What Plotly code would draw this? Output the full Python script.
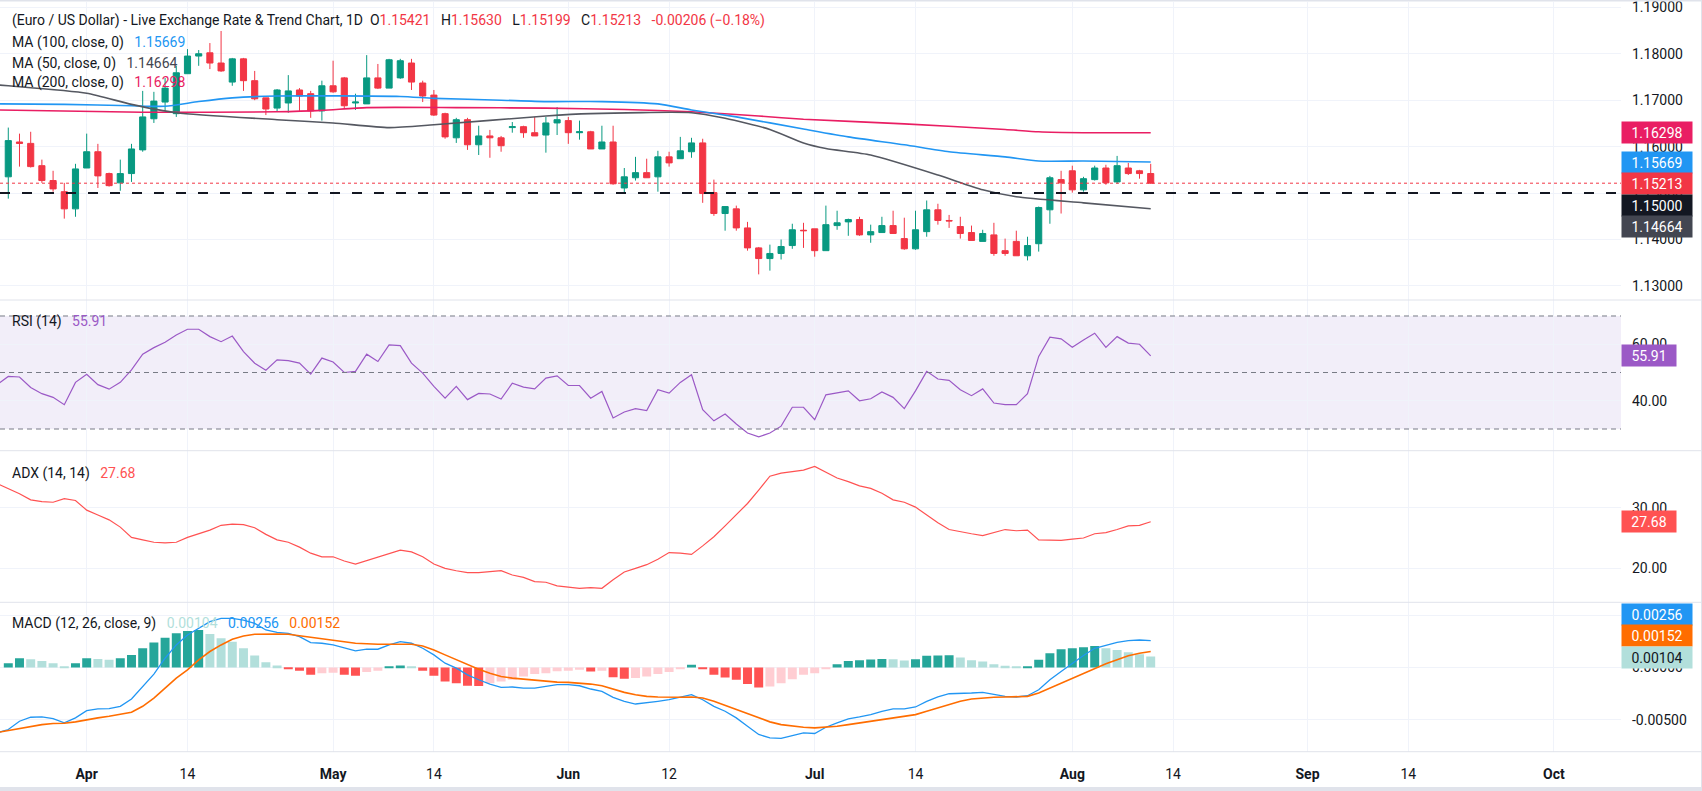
import numpy as np
import pandas as pd
import plotly.graph_objects as go
from plotly.subplots import make_subplots

# ---- data --------------------------------------------------------------
first_bar = "2026-03-23"
bar_dates = pd.bdate_range(first_bar, periods=103)          # candles
ind_dates = pd.bdate_range("2026-03-20", periods=104)       # indicators start one bar earlier

opens = [1.1535, 1.1610, 1.1607, 1.1559, 1.1527, 1.1503, 1.1466, 1.1554, 1.1589, 1.1542,
         1.1522, 1.1542, 1.1593, 1.1660, 1.1696, 1.1671, 1.1757, 1.1795, 1.1802, 1.1780,
         1.1739, 1.1789, 1.1742, 1.1705, 1.1683, 1.1694, 1.1722, 1.1714, 1.1677, 1.1731,
         1.1748, 1.1694, 1.1692, 1.1748, 1.1726, 1.1748, 1.1780, 1.1737, 1.1711, 1.1671,
         1.1619, 1.1658, 1.1604, 1.1623, 1.1619, 1.1641, 1.1643, 1.1630, 1.1625, 1.1651,
         1.1656, 1.1630, 1.1632, 1.1595, 1.1610, 1.1511, 1.1533, 1.1544, 1.1535, 1.1578,
         1.1574, 1.1589, 1.1608, 1.1501, 1.1456, 1.1466, 1.1425, 1.1382, 1.1359, 1.1370,
         1.1387, 1.1420, 1.1423, 1.1376, 1.1430, 1.1438, 1.1443, 1.1410, 1.1415, 1.1430,
         1.1402, 1.1380, 1.1417, 1.1464, 1.1441, 1.1428, 1.1415, 1.1396, 1.1410, 1.1376,
         1.1396, 1.1365, 1.1391, 1.1464, 1.1529, 1.1548, 1.1507, 1.1529, 1.1554, 1.1524,
         1.1554, 1.1548, 1.15421]
highs = [1.1641, 1.1628, 1.1632, 1.1572, 1.1548, 1.1522, 1.1563, 1.1628, 1.1606, 1.1544,
         1.1572, 1.1606, 1.1720, 1.1718, 1.1748, 1.1774, 1.1810, 1.1808, 1.1823, 1.1849,
         1.1791, 1.1791, 1.1763, 1.1705, 1.1724, 1.1754, 1.1726, 1.1720, 1.1742, 1.1785,
         1.1750, 1.1714, 1.1797, 1.1778, 1.1789, 1.1789, 1.1789, 1.1742, 1.1722, 1.1673,
         1.1662, 1.1662, 1.1645, 1.1636, 1.1623, 1.1653, 1.1645, 1.1664, 1.1664, 1.1685,
         1.1664, 1.1656, 1.1634, 1.1645, 1.1645, 1.1554, 1.1578, 1.1574, 1.1591, 1.1589,
         1.1621, 1.1619, 1.1617, 1.1529, 1.1471, 1.1473, 1.1438, 1.1384, 1.1389, 1.1400,
         1.1434, 1.1436, 1.1423, 1.1473, 1.1462, 1.1445, 1.1449, 1.1432, 1.1449, 1.1462,
         1.1447, 1.1462, 1.1484, 1.1477, 1.1453, 1.1449, 1.1430, 1.1421, 1.1436, 1.1402,
         1.1419, 1.1406, 1.1471, 1.1537, 1.1548, 1.1559, 1.1535, 1.1559, 1.1561, 1.1580,
         1.1565, 1.1550, 1.15630]
lows = [1.1488, 1.1557, 1.1555, 1.1522, 1.1503, 1.1445, 1.1449, 1.1554, 1.1511, 1.1514,
        1.1505, 1.1524, 1.1589, 1.1651, 1.1677, 1.1664, 1.1757, 1.1774, 1.1767, 1.1761,
        1.1731, 1.1720, 1.1700, 1.1668, 1.1675, 1.1673, 1.1677, 1.1662, 1.1656, 1.1716,
        1.1683, 1.1679, 1.1692, 1.1724, 1.1726, 1.1746, 1.1722, 1.1696, 1.1666, 1.1617,
        1.1608, 1.1593, 1.1582, 1.1576, 1.1589, 1.1630, 1.1619, 1.1623, 1.1587, 1.1625,
        1.1606, 1.1615, 1.1595, 1.1595, 1.1518, 1.1501, 1.1527, 1.1533, 1.1503, 1.1557,
        1.1574, 1.1576, 1.1479, 1.1451, 1.1419, 1.1419, 1.1376, 1.1325, 1.1333, 1.1357,
        1.1380, 1.1382, 1.1363, 1.1376, 1.1421, 1.1408, 1.1408, 1.1393, 1.1415, 1.1413,
        1.1378, 1.1378, 1.1406, 1.1432, 1.1425, 1.1402, 1.1398, 1.1396, 1.1365, 1.1365,
        1.1365, 1.1355, 1.1374, 1.1434, 1.1456, 1.1501, 1.1503, 1.1527, 1.1518, 1.1520,
        1.1539, 1.1531, 1.15199]
closes = [1.1613, 1.1607, 1.1557, 1.1527, 1.1509, 1.1466, 1.1552, 1.1589, 1.1537, 1.1516,
          1.1542, 1.1595, 1.1664, 1.1698, 1.1726, 1.1759, 1.1795, 1.1800, 1.1780, 1.1763,
          1.1789, 1.1742, 1.1703, 1.1681, 1.1722, 1.1720, 1.1709, 1.1677, 1.1731, 1.1718,
          1.1688, 1.1696, 1.1748, 1.1726, 1.1787, 1.1785, 1.1739, 1.1709, 1.1668, 1.1621,
          1.1658, 1.1604, 1.1623, 1.1619, 1.1602, 1.1643, 1.1630, 1.1623, 1.1651, 1.1658,
          1.1630, 1.1632, 1.1595, 1.1610, 1.1520, 1.1535, 1.1544, 1.1533, 1.1578, 1.1565,
          1.1591, 1.1608, 1.1499, 1.1456, 1.1471, 1.1425, 1.1382, 1.1359, 1.1370, 1.1385,
          1.1421, 1.1419, 1.1376, 1.1432, 1.1436, 1.1443, 1.1410, 1.1417, 1.1430, 1.1413,
          1.1380, 1.1421, 1.1464, 1.1441, 1.1440, 1.1413, 1.1398, 1.1413, 1.1370, 1.1370,
          1.1365, 1.1387, 1.1469, 1.1533, 1.1522, 1.1507, 1.1531, 1.1554, 1.1522, 1.1559,
          1.1542, 1.1542, 1.15213]

# moving averages, read at a handful of bars (bar number counted from first_bar)
ma100_bars = [-1, 5, 11, 14, 17, 20, 24, 35, 38, 44, 48, 53, 58, 61, 65, 71, 75, 80, 84, 89, 92, 96, 102]
ma100 = [1.1692, 1.1691, 1.1688, 1.1687, 1.1697, 1.1705, 1.1709, 1.1708, 1.1704, 1.1700, 1.1697, 1.1697,
         1.1692, 1.1679, 1.1664, 1.1638, 1.1621, 1.1604, 1.1589, 1.1578, 1.1569, 1.1569, 1.15669]
ma50_bars = [-1, 0, 7, 11, 15, 24, 29, 34, 38, 48, 52, 61, 64, 68, 71, 73, 77, 83, 87, 90, 96, 102]
ma50 = [1.1733, 1.1731, 1.1715, 1.1691, 1.1673, 1.1658, 1.1651, 1.1641, 1.1647, 1.1666, 1.1671,
        1.1673, 1.1661, 1.1637, 1.1608, 1.1596, 1.1582, 1.1539, 1.1507, 1.1492, 1.1479, 1.14664]
ma200_bars = [-1, 12, 24, 28, 32, 40, 48, 55, 61, 67, 71, 80, 89, 92, 96, 102]
ma200 = [1.1679, 1.1674, 1.1675, 1.1678, 1.1684, 1.1684, 1.1683, 1.1680, 1.1675, 1.1666, 1.1659,
         1.1649, 1.1637, 1.1632, 1.1630, 1.16298]

rsi = [45.7, 48.6, 48.4, 44.7, 42.5, 41.2, 38.6, 46.5, 49.4, 45.7, 44.1,
       46.5, 50.9, 56.5, 58.8, 60.7, 63.3, 65.3, 65.3, 62.7, 60.9,
       62.9, 57.4, 53.3, 50.8, 54.5, 54.2, 53.3, 49.4, 55.1, 53.7,
       50.0, 50.4, 56.5, 53.9, 59.8, 59.5, 53.3, 49.8, 45.1, 40.9,
       45.1, 40.4, 42.6, 42.4, 40.6, 46.2, 44.8, 44.2, 48.0, 48.8,
       45.4, 45.4, 40.9, 43.3, 33.9, 36.0, 37.2, 36.5, 43.9, 42.7,
       46.5, 49.2, 36.8, 32.9, 35.3, 31.8, 28.6, 27.2, 28.6, 31.0,
       37.7, 37.7, 33.3, 42.1, 42.7, 43.5, 40.0, 40.7, 43.1, 41.2,
       37.2, 43.5, 50.4, 47.7, 47.2, 43.9, 41.8, 44.2, 39.2, 38.6,
       38.6, 42.5, 55.7, 62.5, 61.9, 58.9, 61.5, 63.9, 58.9, 62.7,
       60.4, 60.0, 55.91]

adx = [34.0, 33.2, 32.3, 31.3, 31.0, 30.9, 31.5, 31.2, 29.6, 28.8, 28.0,
       26.8, 25.1, 24.7, 24.3, 24.2, 24.3, 25.1, 25.7, 26.3, 27.1,
       27.3, 27.2, 26.7, 25.6, 24.7, 24.3, 23.5, 22.5, 21.9, 21.9,
       21.2, 20.7, 21.3, 21.8, 22.4, 23.0, 22.7, 21.9, 20.7, 20.0,
       19.6, 19.3, 19.3, 19.4, 19.6, 18.9, 18.5, 17.8, 17.7, 17.1,
       16.9, 16.7, 16.8, 16.7, 18.1, 19.4, 20.0, 20.6, 21.5, 22.6,
       22.5, 22.3, 23.7, 25.2, 27.0, 28.8, 30.7, 32.9, 35.2, 35.7,
       36.0, 36.2, 36.8, 35.9, 34.9, 34.3, 33.6, 33.2, 32.4, 31.3,
       30.9, 30.1, 28.8, 27.5, 26.4, 26.0, 25.7, 25.4, 25.9, 26.4,
       26.2, 26.3, 24.7, 24.6, 24.6, 24.8, 25.0, 25.7, 25.9, 26.4,
       27.0, 27.1, 27.68]

macd = [-0.00623, -0.00591, -0.00512, -0.00474, -0.00471, -0.00487, -0.00528, -0.00480, -0.00411, -0.00395, -0.00392,
        -0.00370, -0.00300, -0.00180, -0.00063, 0.00088, 0.00215, 0.00310, 0.00373, 0.00436, 0.00468,
        0.00468, 0.00452, 0.00420, 0.00357, 0.00335, 0.00325, 0.00294, 0.00237, 0.00231, 0.00215,
        0.00183, 0.00158, 0.00174, 0.00174, 0.00215, 0.00246, 0.00231, 0.00183, 0.00120, 0.00041,
        -0.00006, -0.00070, -0.00117, -0.00158, -0.00190, -0.00186, -0.00196, -0.00196, -0.00180, -0.00164,
        -0.00164, -0.00174, -0.00205, -0.00228, -0.00284, -0.00322, -0.00348, -0.00338, -0.00322, -0.00307,
        -0.00284, -0.00259, -0.00307, -0.00370, -0.00417, -0.00480, -0.00559, -0.00638, -0.00670, -0.00676,
        -0.00648, -0.00623, -0.00629, -0.00569, -0.00528, -0.00490, -0.00471, -0.00449, -0.00417, -0.00395,
        -0.00395, -0.00376, -0.00322, -0.00281, -0.00250, -0.00243, -0.00243, -0.00237, -0.00259, -0.00275,
        -0.00281, -0.00269, -0.00212, -0.00117, -0.00038, 0.00041, 0.00114, 0.00183, 0.00215, 0.00240,
        0.00256, 0.00262, 0.00256]
signal = [-0.00619, -0.00600, -0.00581, -0.00559, -0.00544, -0.00534, -0.00531, -0.00518, -0.00496, -0.00480, -0.00465,
          -0.00449, -0.00427, -0.00370, -0.00291, -0.00196, -0.00101, -0.00022, 0.00073, 0.00152, 0.00215,
          0.00269, 0.00300, 0.00316, 0.00319, 0.00319, 0.00316, 0.00303, 0.00291, 0.00278, 0.00262,
          0.00246, 0.00231, 0.00224, 0.00221, 0.00221, 0.00221, 0.00221, 0.00205, 0.00167, 0.00120,
          0.00073, 0.00025, -0.00016, -0.00054, -0.00085, -0.00101, -0.00111, -0.00123, -0.00133, -0.00139,
          -0.00142, -0.00149, -0.00158, -0.00174, -0.00205, -0.00237, -0.00259, -0.00275, -0.00281, -0.00284,
          -0.00284, -0.00281, -0.00291, -0.00322, -0.00360, -0.00401, -0.00442, -0.00480, -0.00518, -0.00544,
          -0.00559, -0.00569, -0.00575, -0.00569, -0.00559, -0.00544, -0.00528, -0.00512, -0.00496, -0.00480,
          -0.00465, -0.00449, -0.00417, -0.00386, -0.00354, -0.00322, -0.00300, -0.00291, -0.00284, -0.00281,
          -0.00281, -0.00275, -0.00243, -0.00196, -0.00149, -0.00101, -0.00054, -0.00006, 0.00035, 0.00073,
          0.00111, 0.00136, 0.00152]
hist = [0.00041, 0.00088, 0.00079, 0.00063, 0.00041, 0.00003, 0.00041, 0.00088, 0.00082, 0.00073,
        0.00088, 0.00120, 0.00183, 0.00237, 0.00284, 0.00325, 0.00348, 0.00357, 0.00319, 0.00278,
        0.00246, 0.00183, 0.00114, 0.00051, 0.00019, -0.00016, -0.00032, -0.00070, -0.00054, -0.00050,
        -0.00070, -0.00079, -0.00044, -0.00032, 0.00010, 0.00019, 0.00003, -0.00032, -0.00079, -0.00133,
        -0.00149, -0.00174, -0.00177, -0.00149, -0.00133, -0.00117, -0.00085, -0.00063, -0.00054, -0.00035,
        -0.00030, -0.00022, -0.00038, -0.00032, -0.00092, -0.00107, -0.00101, -0.00085, -0.00063, -0.00044,
        -0.00013, 0.00025, -0.00016, -0.00070, -0.00095, -0.00117, -0.00158, -0.00190, -0.00180, -0.00149,
        -0.00111, -0.00070, -0.00054, -0.00016, 0.00032, 0.00063, 0.00070, 0.00076, 0.00082, 0.00079,
        0.00066, 0.00079, 0.00111, 0.00114, 0.00116, 0.00095, 0.00070, 0.00057, 0.00032, 0.00016,
        0.00006, 0.00010, 0.00073, 0.00136, 0.00174, 0.00183, 0.00193, 0.00205, 0.00183, 0.00167,
        0.00145, 0.00126, 0.00104]

tick_dates = ["2026-04-01", "2026-04-14", "2026-05-01", "2026-05-14", "2026-06-01", "2026-06-12",
              "2026-07-01", "2026-07-14", "2026-08-03", "2026-08-14", "2026-09-01", "2026-09-14",
              "2026-10-01"]
tick_labels = ["<b>Apr</b>", "14", "<b>May</b>", "14", "<b>Jun</b>", "12", "<b>Jul</b>", "14",
               "<b>Aug</b>", "14", "<b>Sep</b>", "14", "<b>Oct</b>"]

# ---- colours -------------------------------------------------------------
GREEN, RED = "#089981", "#f23645"
BLUE, GRAY, PINK = "#2196f3", "#555861", "#e91e63"
PURPLE, ADXC, ORANGE = "#9b59c6", "#ff5252", "#ff6d00"
TEXT, GRID, SEP = "#131722", "#f0f3fa", "#e0e3eb"


def xpos(dates):
    # trading-day number, weekends skipped like the original
    d = np.array(pd.to_datetime(dates).values.astype("datetime64[D]"))
    return np.busday_count(np.datetime64(first_bar), d)


def bar_x(bars):
    return xpos([ind_dates[b + 1] for b in bars])


# figure geometry (px)
W, H = 1702, 791
M_T, M_B, M_R = 2, 39, 81
PLOT_H = H - M_T - M_B


def py(px):
    return (H - M_B - px) / PLOT_H


fig = make_subplots(rows=4, cols=1, shared_xaxes=True, vertical_spacing=0)

fig.add_trace(go.Candlestick(
    x=xpos(bar_dates), open=opens, high=highs, low=lows, close=closes,
    increasing=dict(line=dict(color=GREEN, width=1), fillcolor=GREEN),
    decreasing=dict(line=dict(color=RED, width=1), fillcolor=RED),
    whiskerwidth=0, hoverinfo="skip", showlegend=False), row=1, col=1)

for bars, vals, col in [(ma200_bars, ma200, PINK), (ma100_bars, ma100, BLUE), (ma50_bars, ma50, GRAY)]:
    fig.add_trace(go.Scatter(x=bar_x(bars), y=vals, mode="lines",
                             line=dict(color=col, width=1.6, shape="spline", smoothing=0.6),
                             hoverinfo="skip", showlegend=False), row=1, col=1)

fig.add_trace(go.Scatter(x=xpos(ind_dates), y=rsi, mode="lines", line=dict(color=PURPLE, width=1.2),
                         hoverinfo="skip", showlegend=False), row=2, col=1)
fig.add_trace(go.Scatter(x=xpos(ind_dates), y=adx, mode="lines", line=dict(color=ADXC, width=1.2),
                         hoverinfo="skip", showlegend=False), row=3, col=1)

# histogram colour follows TradingView's rising / falling rule
hist_cols = []
prev = None
for v in hist:
    if v >= 0:
        hist_cols.append("#26a69a" if prev is None or v >= prev else "#b2dfdb")
    else:
        hist_cols.append("#ffcdd2" if prev is not None and v > prev else "#ff5252")
    prev = v

fig.add_trace(go.Bar(x=xpos(bar_dates), y=hist, width=0.8, marker=dict(color=hist_cols, line=dict(width=0)),
                     hoverinfo="skip", showlegend=False), row=4, col=1)
fig.add_trace(go.Scatter(x=xpos(ind_dates), y=macd, mode="lines", line=dict(color=BLUE, width=1.3),
                         hoverinfo="skip", showlegend=False), row=4, col=1)
fig.add_trace(go.Scatter(x=xpos(ind_dates), y=signal, mode="lines", line=dict(color=ORANGE, width=1.6),
                         hoverinfo="skip", showlegend=False), row=4, col=1)

# ---- axes ----------------------------------------------------------------
fig.update_xaxes(range=[-0.74, 143.99], tickvals=xpos(tick_dates), ticktext=tick_labels,
                 showgrid=True, gridcolor=GRID, gridwidth=1, zeroline=False, showline=False,
                 ticks="", rangeslider_visible=False, ticklabelstandoff=12,
                 tickfont=dict(size=14, color=TEXT))

axis_common = dict(side="right", showgrid=True, gridcolor=GRID, zeroline=False, showline=False,
                   ticks="", ticklabelstandoff=10, ticklabeloverflow="allow",
                   tickfont=dict(size=14, color=TEXT), fixedrange=True)
price_ticks = [1.13, 1.14, 1.15, 1.16, 1.17, 1.18, 1.19]
fig.update_layout(
    yaxis=dict(domain=[py(300), 1], range=[1.12698, 1.19114], tickvals=price_ticks,
               ticktext=["%.5f" % t for t in price_ticks], **axis_common),
    yaxis2=dict(domain=[py(450.7), py(300)], range=[22.32, 75.66], tickvals=[40, 60],
                ticktext=["40.00", "60.00"], **axis_common),
    yaxis3=dict(domain=[py(602.3), py(450.7)], range=[14.39, 39.41], tickvals=[20, 30],
                ticktext=["20.00", "30.00"], **axis_common),
    yaxis4=dict(domain=[0, py(602.3)], range=[-0.00805, 0.00621], tickvals=[-0.005, 0, 0.005],
                ticktext=["-0.00500", "0.00000", "0.00500"], **axis_common),
)

# ---- lines, bands, separators --------------------------------------------
shapes = [
    dict(type="rect", xref="paper", x0=0, x1=1, yref="y2", y0=30, y1=70,
         fillcolor="rgba(126,87,194,0.10)", line=dict(width=0), layer="below"),
    dict(type="line", xref="paper", x0=0, x1=1, yref="y", y0=1.15213, y1=1.15213,
         line=dict(color=RED, width=1, dash="dot")),
    dict(type="line", xref="paper", x0=0, x1=1, yref="y", y0=1.15, y1=1.15,
         line=dict(color=TEXT, width=2, dash="10px,12px")),
]
for lvl in (70, 50, 30):
    shapes.append(dict(type="line", xref="paper", x0=0, x1=1, yref="y2", y0=lvl, y1=lvl,
                       line=dict(color="#787b86", width=1, dash="5px,4px")))
x_right = (W - 1) / (W - M_R)
for sep in (300, 450.7, 602.3, 751.7):
    shapes.append(dict(type="line", xref="paper", x0=0, x1=x_right, yref="paper", y0=py(sep), y1=py(sep),
                       line=dict(color=SEP, width=1)))
shapes.append(dict(type="rect", xref="paper", x0=0, x1=W / (W - M_R), yref="paper", y0=py(787), y1=py(H),
                   fillcolor=SEP, line=dict(width=0)))
shapes.append(dict(type="rect", xref="paper", x0=x_right, x1=W / (W - M_R), yref="paper", y0=py(H), y1=py(0),
                   fillcolor=SEP, line=dict(width=0)))
shapes.append(dict(type="rect", xref="paper", x0=0, x1=W / (W - M_R), yref="paper", y0=py(1.5), y1=py(0),
                   fillcolor=SEP, line=dict(width=0)))

# ---- text ----------------------------------------------------------------
def col(txt, c):
    return "<span style='color:%s'>%s</span>" % (c, txt)


S2, S3 = "&nbsp;" * 2, "&nbsp;" * 3
title = ("(Euro / US Dollar) - Live Exchange Rate &amp; Trend Chart, 1D" + S2 +
         "O" + col("1.15421", RED) + S3 + "H" + col("1.15630", RED) + S3 +
         "L" + col("1.15199", RED) + S3 + "C" + col("1.15213", RED) + S3 +
         col("-0.00206 (\u22120.18%)", RED))
legend_rows = [
    (20, title),
    (42, "MA (100, close, 0)" + S3 + col("1.15669", BLUE)),
    (63, "MA (50, close, 0)" + S3 + col("1.14664", "#434651")),
    (83, "MA (200, close, 0)" + S3 + col("1.16298", PINK)),
    (321, "RSI (14)" + S3 + col("55.91", PURPLE)),
    (473, "ADX (14, 14)" + S3 + col("27.68", ADXC)),
    (623, "MACD (12, 26, close, 9)" + S3 + col("0.00104", "#b2dfdb") + S3 +
     col("0.00256", BLUE) + S3 + col("0.00152", ORANGE)),
]
annotations = []
for ypx, txt in legend_rows:
    annotations.append(dict(xref="paper", yref="paper", x=0, y=py(ypx), xanchor="left", yanchor="middle",
                            xshift=10, text=txt, showarrow=False, font=dict(size=14, color=TEXT)))

# price-scale value boxes: (text, axis, value, background, text colour, width, shift)
boxes = [
    ("1.16298", "y", 1.16298, PINK, "white", 68, 0),
    ("1.15669", "y", 1.15669, BLUE, "white", 68, 0),
    ("1.15213", "y", 1.15213, RED, "white", 68, 0),
    ("1.15000", "y", 1.15, TEXT, "white", 68, -12),
    ("1.14664", "y", 1.14664, "#434651", "white", 68, -18),
    ("55.91", "y2", 55.91, PURPLE, "white", 52, 0),
    ("27.68", "y3", 27.68, ADXC, "white", 52, 0),
    ("0.00256", "y4", 0.00256, BLUE, "white", 68, 26),
    ("0.00152", "y4", 0.00152, ORANGE, "white", 68, 16),
    ("0.00104", "y4", 0.00104, "#b2dfdb", TEXT, 68, -1),
]
for txt, yref, val, bg, fg, w, sh in boxes:
    annotations.append(dict(xref="paper", yref=yref, x=1, y=val, xanchor="left", yanchor="middle",
                            yshift=sh, text=txt, showarrow=False, width=w, height=19, align="center",
                            bgcolor=bg, borderpad=1, font=dict(size=14, color=fg)))

fig.update_layout(
    width=W, height=H, margin=dict(l=0, r=M_R, t=M_T, b=M_B),
    paper_bgcolor="white", plot_bgcolor="white",
    font=dict(family="Roboto, sans-serif", size=14, color=TEXT),
    boxgap=0.22, hovermode=False, showlegend=False,
    shapes=shapes, annotations=annotations,
)

fig.write_html("out.html", config={"displayModeBar": False},
               post_script="document.body.style.margin='0';")
